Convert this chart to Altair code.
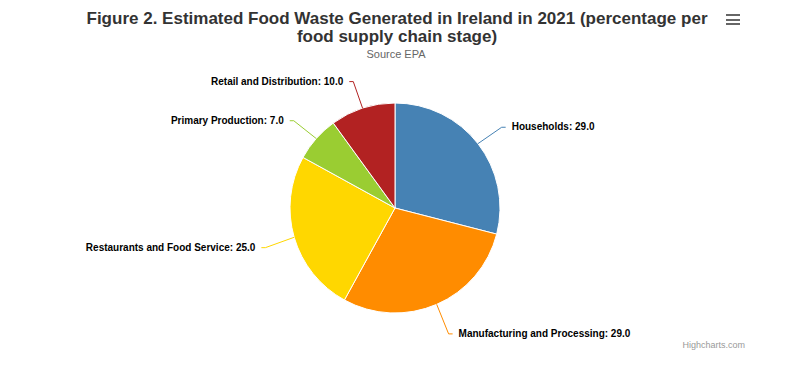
import altair as alt
import pandas as pd

categories = ["Households", "Manufacturing and Processing", "Restaurants and Food Service",
              "Primary Production", "Retail and Distribution"]
values = [29.0, 29.0, 25.0, 7.0, 10.0]
colors = ["#4682B4", "#FF8C00", "#FFD700", "#9ACD32", "#B22222"]

title_text = ("Figure 2. Estimated Food Waste Generated in Ireland in 2021 (percentage per\n"
              "food supply chain stage)")
subtitle = "Source EPA"
credit = "Highcharts.com"

W, H = 784, 350
CX, CY, R, D = 387, 200, 105, 30
FONT = "Liberation Sans, Arial, sans-serif"

df = pd.DataFrame({"category": categories, "value": values, "order": list(range(len(values)))})

color = alt.Color("category:N", scale=alt.Scale(domain=categories, range=colors), legend=None)

base = alt.Chart(df).transform_joinaggregate(
    total="sum(value)"
).transform_window(
    cum="sum(value)", sort=[alt.SortField("order")], frame=[None, 0]
).transform_calculate(
    mid="(datum.cum - datum.value/2)/datum.total*2*PI"
).transform_calculate(
    side="sin(datum.mid) >= 0 ? 1 : -1",
    ex=f"{CX} + {R}*sin(datum.mid)",
    ey=f"{CY} - {R}*cos(datum.mid)",
    ax=f"{CX} + {R + D}*sin(datum.mid)",
    ay=f"{CY} + 2 - {R + D}*cos(datum.mid)",
).transform_calculate(
    bx="datum.ax + 4*datum.side",
    tx="datum.ax + 10*datum.side",
    label="datum.category + ': ' + format(datum.value, '.1f')",
)

pie = alt.Chart(df).mark_arc(outerRadius=R, stroke="white", strokeWidth=1).encode(
    theta=alt.Theta("value:Q", stack=True),
    order=alt.Order("order:Q"),
    color=color,
    x=alt.value(CX),
    y=alt.value(CY),
)

X = lambda f: alt.X(f, scale=None, axis=None)
Y = lambda f: alt.Y(f, scale=None, axis=None)

conn1 = base.mark_rule(strokeWidth=1).encode(
    x=X("ex:Q"), y=Y("ey:Q"), x2="ax:Q", y2="ay:Q", color=color)
conn2 = base.mark_rule(strokeWidth=1).encode(
    x=X("ax:Q"), y=Y("ay:Q"), x2="bx:Q", y2="ay:Q", color=color)

lab_kw = dict(font=FONT, fontSize=10, fontWeight="bold", color="#000000", baseline="middle")
lab_r = base.transform_filter("datum.side > 0").mark_text(align="left", **lab_kw).encode(
    x=X("tx:Q"), y=Y("ay:Q"), text="label:N")
lab_l = base.transform_filter("datum.side < 0").mark_text(align="right", **lab_kw).encode(
    x=X("tx:Q"), y=Y("ay:Q"), text="label:N")

def txt(s, x, y, **kw):
    return alt.Chart(pd.DataFrame({"t": [s]})).mark_text(**kw).encode(
        text="t:N", x=alt.value(x), y=alt.value(y))

t1 = txt(title_text, 389, 16, font=FONT, fontSize=17, fontWeight="bold", color="#333333",
         align="center", baseline="alphabetic", lineBreak="\n", lineHeight=18)
st = txt(subtitle, 388, 50, font=FONT, fontSize=11, color="#666666", align="center",
         baseline="alphabetic")
cr = txt(credit, 737, 337, font=FONT, fontSize=9, color="#999999", align="right",
         baseline="middle")

menu = [alt.Chart(pd.DataFrame({"k": [0]})).mark_rule(color="#666666", strokeWidth=2).encode(
    x=alt.value(718), x2=alt.value(732), y=alt.value(yy)) for yy in (7, 12, 16)]

chart = alt.layer(pie, conn1, conn2, lab_r, lab_l, t1, st, cr, *menu).properties(
    width=W, height=H, padding=0, autosize="none"
).configure_view(stroke=None).resolve_scale(color="shared")

chart.save("out.html", embed_options={"renderer": "svg", "actions": False})
